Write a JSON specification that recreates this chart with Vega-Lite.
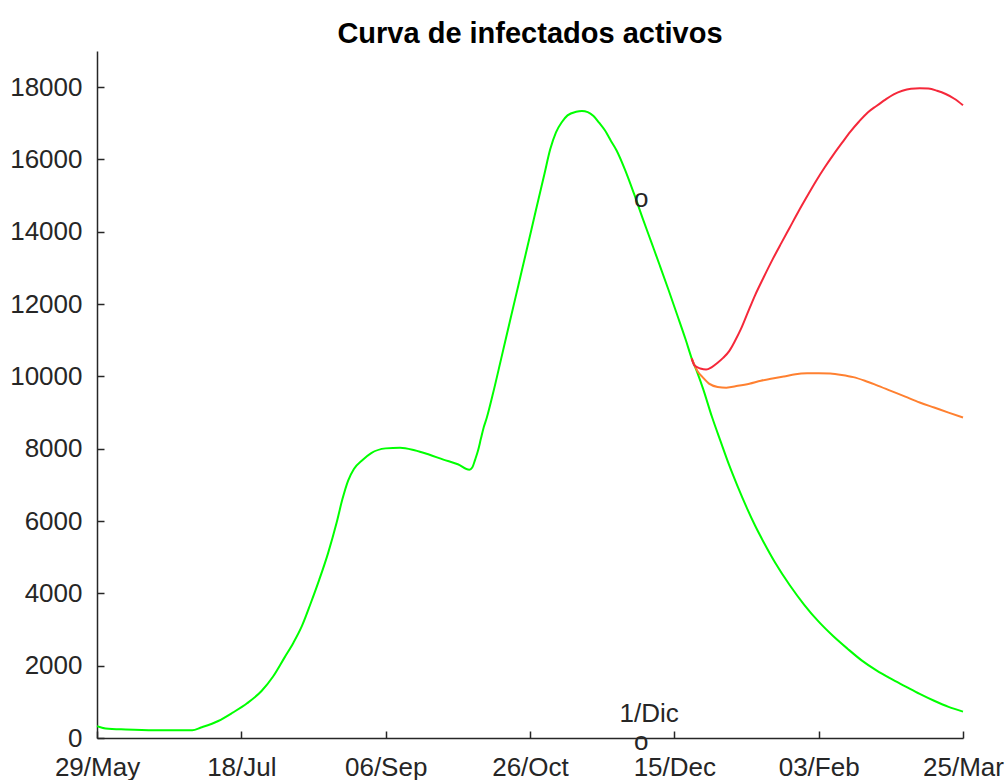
{
  "$schema": "https://vega.github.io/schema/vega-lite/v6.json",
  "width": 866,
  "height": 687,
  "autosize": {"type": "none"},
  "padding": {"left": 97, "top": 51, "right": 45, "bottom": 42},
  "background": "white",
  "title": {
    "text": "Curva de infectados activos",
    "font": "Liberation Sans",
    "fontSize": 29,
    "fontWeight": "bold",
    "color": "#000000",
    "anchor": "middle",
    "frame": "group",
    "baseline": "alphabetic",
    "offset": -21
  },
  "config": {
    "view": {"stroke": null},
    "font": "Liberation Sans",
    "axis": {
      "grid": false,
      "title": null,
      "domainColor": "#262626",
      "domainWidth": 1.5,
      "tickColor": "#262626",
      "tickWidth": 1.5,
      "tickSize": -7,
      "labelFont": "Liberation Sans",
      "labelFontSize": 26,
      "labelColor": "#262626",
      "labelOverlap": false,
      "labelFlush": false
    }
  },
  "datasets": {
    "curves": [
      {"date": "2020-05-29", "value": 330, "series": "A"},
      {"date": "2020-06-01", "value": 265, "series": "A"},
      {"date": "2020-06-08", "value": 235, "series": "A"},
      {"date": "2020-06-18", "value": 215, "series": "A"},
      {"date": "2020-07-01", "value": 215, "series": "A"},
      {"date": "2020-07-04", "value": 290, "series": "A"},
      {"date": "2020-07-10", "value": 470, "series": "A"},
      {"date": "2020-07-15", "value": 700, "series": "A"},
      {"date": "2020-07-20", "value": 960, "series": "A"},
      {"date": "2020-07-25", "value": 1300, "series": "A"},
      {"date": "2020-07-29", "value": 1700, "series": "A"},
      {"date": "2020-08-02", "value": 2230, "series": "A"},
      {"date": "2020-08-05", "value": 2630, "series": "A"},
      {"date": "2020-08-08", "value": 3100, "series": "A"},
      {"date": "2020-08-11", "value": 3720, "series": "A"},
      {"date": "2020-08-14", "value": 4380, "series": "A"},
      {"date": "2020-08-17", "value": 5100, "series": "A"},
      {"date": "2020-08-20", "value": 5950, "series": "A"},
      {"date": "2020-08-22", "value": 6600, "series": "A"},
      {"date": "2020-08-24", "value": 7120, "series": "A"},
      {"date": "2020-08-26", "value": 7440, "series": "A"},
      {"date": "2020-08-29", "value": 7690, "series": "A"},
      {"date": "2020-09-01", "value": 7880, "series": "A"},
      {"date": "2020-09-06", "value": 8010, "series": "A"},
      {"date": "2020-09-11", "value": 8030, "series": "A"},
      {"date": "2020-09-16", "value": 7960, "series": "A"},
      {"date": "2020-09-21", "value": 7840, "series": "A"},
      {"date": "2020-09-26", "value": 7700, "series": "A"},
      {"date": "2020-10-01", "value": 7570, "series": "A"},
      {"date": "2020-10-05", "value": 7420, "series": "A"},
      {"date": "2020-10-06", "value": 7480, "series": "A"},
      {"date": "2020-10-07", "value": 7700, "series": "A"},
      {"date": "2020-10-08", "value": 7950, "series": "A"},
      {"date": "2020-10-09", "value": 8280, "series": "A"},
      {"date": "2020-10-10", "value": 8600, "series": "A"},
      {"date": "2020-10-11", "value": 8850, "series": "A"},
      {"date": "2020-10-13", "value": 9470, "series": "A"},
      {"date": "2020-10-16", "value": 10485, "series": "A"},
      {"date": "2020-10-19", "value": 11510, "series": "A"},
      {"date": "2020-10-22", "value": 12530, "series": "A"},
      {"date": "2020-10-25", "value": 13550, "series": "A"},
      {"date": "2020-10-28", "value": 14580, "series": "A"},
      {"date": "2020-10-31", "value": 15600, "series": "A"},
      {"date": "2020-11-02", "value": 16280, "series": "A"},
      {"date": "2020-11-04", "value": 16750, "series": "A"},
      {"date": "2020-11-06", "value": 17030, "series": "A"},
      {"date": "2020-11-08", "value": 17220, "series": "A"},
      {"date": "2020-11-11", "value": 17320, "series": "A"},
      {"date": "2020-11-13", "value": 17340, "series": "A"},
      {"date": "2020-11-15", "value": 17310, "series": "A"},
      {"date": "2020-11-17", "value": 17200, "series": "A"},
      {"date": "2020-11-19", "value": 17010, "series": "A"},
      {"date": "2020-11-21", "value": 16800, "series": "A"},
      {"date": "2020-11-23", "value": 16520, "series": "A"},
      {"date": "2020-11-25", "value": 16250, "series": "A"},
      {"date": "2020-11-28", "value": 15700, "series": "A"},
      {"date": "2020-12-01", "value": 15060, "series": "A"},
      {"date": "2020-12-04", "value": 14380, "series": "A"},
      {"date": "2020-12-07", "value": 13720, "series": "A"},
      {"date": "2020-12-10", "value": 13060, "series": "A"},
      {"date": "2020-12-13", "value": 12390, "series": "A"},
      {"date": "2020-12-16", "value": 11700, "series": "A"},
      {"date": "2020-12-19", "value": 11000, "series": "A"},
      {"date": "2020-12-21", "value": 10500, "series": "A"},
      {"date": "2020-12-23", "value": 10100, "series": "A"},
      {"date": "2020-12-25", "value": 9650, "series": "A"},
      {"date": "2020-12-28", "value": 8890, "series": "A"},
      {"date": "2020-12-31", "value": 8210, "series": "A"},
      {"date": "2021-01-03", "value": 7546, "series": "A"},
      {"date": "2021-01-06", "value": 6946, "series": "A"},
      {"date": "2021-01-09", "value": 6384, "series": "A"},
      {"date": "2021-01-12", "value": 5869, "series": "A"},
      {"date": "2021-01-15", "value": 5409, "series": "A"},
      {"date": "2021-01-19", "value": 4840, "series": "A"},
      {"date": "2021-01-24", "value": 4224, "series": "A"},
      {"date": "2021-01-29", "value": 3685, "series": "A"},
      {"date": "2021-02-03", "value": 3217, "series": "A"},
      {"date": "2021-02-08", "value": 2820, "series": "A"},
      {"date": "2021-02-13", "value": 2469, "series": "A"},
      {"date": "2021-02-18", "value": 2140, "series": "A"},
      {"date": "2021-02-23", "value": 1870, "series": "A"},
      {"date": "2021-02-28", "value": 1640, "series": "A"},
      {"date": "2021-03-05", "value": 1430, "series": "A"},
      {"date": "2021-03-10", "value": 1220, "series": "A"},
      {"date": "2021-03-15", "value": 1030, "series": "A"},
      {"date": "2021-03-20", "value": 860, "series": "A"},
      {"date": "2021-03-25", "value": 730, "series": "A"},

      {"date": "2020-12-21", "value": 10500, "series": "B"},
      {"date": "2020-12-23", "value": 10150, "series": "B"},
      {"date": "2020-12-25", "value": 9960, "series": "B"},
      {"date": "2020-12-27", "value": 9800, "series": "B"},
      {"date": "2020-12-30", "value": 9710, "series": "B"},
      {"date": "2021-01-02", "value": 9690, "series": "B"},
      {"date": "2021-01-06", "value": 9740, "series": "B"},
      {"date": "2021-01-10", "value": 9800, "series": "B"},
      {"date": "2021-01-14", "value": 9880, "series": "B"},
      {"date": "2021-01-18", "value": 9940, "series": "B"},
      {"date": "2021-01-22", "value": 10000, "series": "B"},
      {"date": "2021-01-26", "value": 10060, "series": "B"},
      {"date": "2021-01-30", "value": 10085, "series": "B"},
      {"date": "2021-02-03", "value": 10090, "series": "B"},
      {"date": "2021-02-07", "value": 10080, "series": "B"},
      {"date": "2021-02-11", "value": 10040, "series": "B"},
      {"date": "2021-02-15", "value": 9980, "series": "B"},
      {"date": "2021-02-19", "value": 9880, "series": "B"},
      {"date": "2021-02-23", "value": 9760, "series": "B"},
      {"date": "2021-02-28", "value": 9600, "series": "B"},
      {"date": "2021-03-05", "value": 9440, "series": "B"},
      {"date": "2021-03-10", "value": 9280, "series": "B"},
      {"date": "2021-03-15", "value": 9140, "series": "B"},
      {"date": "2021-03-20", "value": 9000, "series": "B"},
      {"date": "2021-03-25", "value": 8865, "series": "B"},

      {"date": "2020-12-21", "value": 10500, "series": "C"},
      {"date": "2020-12-22", "value": 10300, "series": "C"},
      {"date": "2020-12-24", "value": 10220, "series": "C"},
      {"date": "2020-12-26", "value": 10190, "series": "C"},
      {"date": "2020-12-28", "value": 10260, "series": "C"},
      {"date": "2020-12-30", "value": 10380, "series": "C"},
      {"date": "2021-01-01", "value": 10520, "series": "C"},
      {"date": "2021-01-03", "value": 10700, "series": "C"},
      {"date": "2021-01-05", "value": 10980, "series": "C"},
      {"date": "2021-01-07", "value": 11300, "series": "C"},
      {"date": "2021-01-09", "value": 11680, "series": "C"},
      {"date": "2021-01-12", "value": 12250, "series": "C"},
      {"date": "2021-01-15", "value": 12750, "series": "C"},
      {"date": "2021-01-18", "value": 13230, "series": "C"},
      {"date": "2021-01-21", "value": 13680, "series": "C"},
      {"date": "2021-01-24", "value": 14120, "series": "C"},
      {"date": "2021-01-27", "value": 14560, "series": "C"},
      {"date": "2021-01-30", "value": 14980, "series": "C"},
      {"date": "2021-02-02", "value": 15390, "series": "C"},
      {"date": "2021-02-05", "value": 15770, "series": "C"},
      {"date": "2021-02-08", "value": 16120, "series": "C"},
      {"date": "2021-02-11", "value": 16450, "series": "C"},
      {"date": "2021-02-14", "value": 16770, "series": "C"},
      {"date": "2021-02-17", "value": 17050, "series": "C"},
      {"date": "2021-02-20", "value": 17300, "series": "C"},
      {"date": "2021-02-23", "value": 17480, "series": "C"},
      {"date": "2021-02-26", "value": 17650, "series": "C"},
      {"date": "2021-03-01", "value": 17800, "series": "C"},
      {"date": "2021-03-04", "value": 17900, "series": "C"},
      {"date": "2021-03-07", "value": 17955, "series": "C"},
      {"date": "2021-03-10", "value": 17970, "series": "C"},
      {"date": "2021-03-13", "value": 17960, "series": "C"},
      {"date": "2021-03-16", "value": 17900, "series": "C"},
      {"date": "2021-03-19", "value": 17810, "series": "C"},
      {"date": "2021-03-22", "value": 17680, "series": "C"},
      {"date": "2021-03-25", "value": 17500, "series": "C"}
    ],
    "labels": [
      {"date": "2020-12-01", "value": 14900, "label": "o"},
      {"date": "2020-12-01", "value": -100, "label": "o"},
      {"date": "2020-11-26", "value": 650, "label": "1/Dic"}
    ]
  },
  "layer": [
    {
      "data": {"name": "curves"},
      "mark": {"type": "line", "interpolate": "monotone", "strokeWidth": 2},
      "encoding": {
        "x": {
          "field": "date",
          "type": "temporal",
          "scale": {
            "type": "utc",
            "domain": [
              {"year": 2020, "month": 5, "date": 29, "utc": true},
              {"year": 2021, "month": 3, "date": 25, "utc": true}
            ]
          },
          "axis": {
            "values": [
              {"year": 2020, "month": 5, "date": 29, "utc": true},
              {"year": 2020, "month": 7, "date": 18, "utc": true},
              {"year": 2020, "month": 9, "date": 6, "utc": true},
              {"year": 2020, "month": 10, "date": 26, "utc": true},
              {"year": 2020, "month": 12, "date": 15, "utc": true},
              {"year": 2021, "month": 2, "date": 3, "utc": true},
              {"year": 2021, "month": 3, "date": 25, "utc": true}
            ],
            "labelExpr": "utcFormat(datum.value, '%d/%b')",
            "labelPadding": 23
          }
        },
        "y": {
          "field": "value",
          "type": "quantitative",
          "scale": {"domain": [0, 19000], "nice": false, "zero": false},
          "axis": {
            "values": [0, 2000, 4000, 6000, 8000, 10000, 12000, 14000, 16000, 18000],
            "format": "d",
            "labelPadding": 22
          }
        },
        "color": {
          "field": "series",
          "type": "nominal",
          "scale": {"domain": ["A", "B", "C"], "range": ["#00ff00", "#ff8030", "#f5283a"]},
          "legend": null
        }
      }
    },
    {
      "data": {"name": "labels"},
      "mark": {"type": "text", "align": "left", "baseline": "middle", "fontSize": 26, "font": "Liberation Sans", "color": "#262626"},
      "encoding": {
        "x": {"field": "date", "type": "temporal"},
        "y": {"field": "value", "type": "quantitative"},
        "text": {"field": "label", "type": "nominal"}
      }
    }
  ]
}
